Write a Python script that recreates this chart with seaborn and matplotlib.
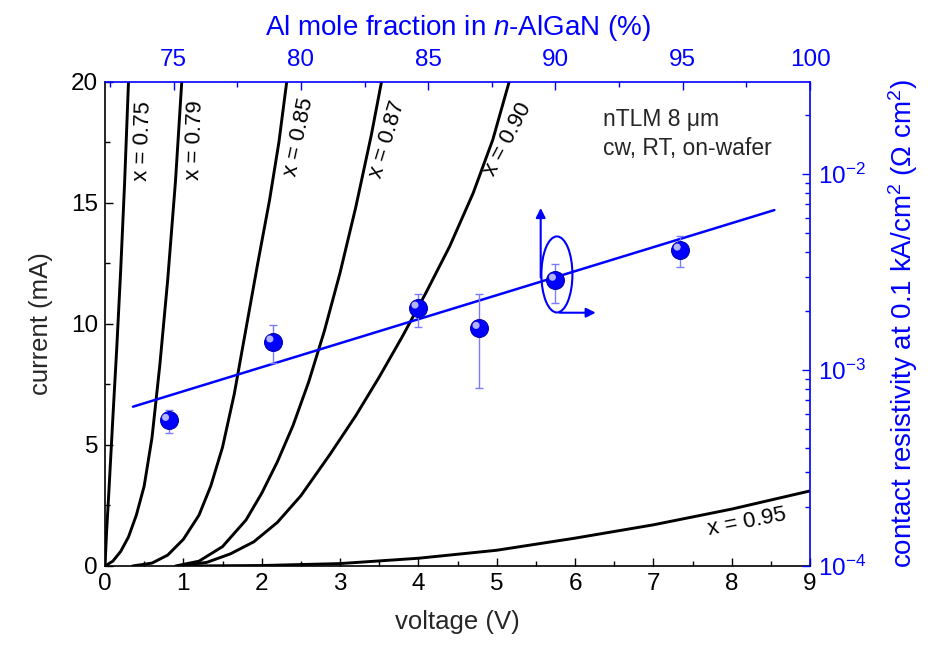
import numpy as np
import pandas as pd
import matplotlib
matplotlib.use("Agg")
import matplotlib.pyplot as plt
import seaborn as sns
from matplotlib.patches import Ellipse
from matplotlib.ticker import MultipleLocator, LogLocator, NullFormatter, FixedLocator
import matplotlib.transforms as mtransforms

# ---------------- data: I-V curves (voltage V, current mA) ----------------
labels = ["x = 0.75", "x = 0.79", "x = 0.85", "x = 0.87", "x = 0.90", "x = 0.95"]
v_075 = [0.0, 0.02, 0.05, 0.10, 0.15, 0.20, 0.25, 0.30]
i_075 = [0.0, 1.4, 3.1, 6.1, 9.0, 12.2, 15.8, 20.0]
v_079 = [0.0, 0.1, 0.2, 0.3, 0.4, 0.5, 0.6, 0.7, 0.8, 0.9, 0.98]
i_079 = [0.0, 0.2, 0.6, 1.2, 2.1, 3.3, 5.3, 8.3, 11.8, 15.9, 20.0]
v_085 = [0.35, 0.6, 0.8, 1.0, 1.2, 1.35, 1.5, 1.65, 1.8, 1.95, 2.1, 2.22, 2.32]
i_085 = [0.0, 0.12, 0.45, 1.1, 2.1, 3.3, 4.9, 7.1, 9.8, 12.5, 15.1, 17.5, 20.0]
v_087 = [0.9, 1.2, 1.5, 1.8, 2.0, 2.2, 2.4, 2.6, 2.8, 3.0, 3.2, 3.4, 3.53]
i_087 = [0.0, 0.2, 0.8, 1.9, 3.0, 4.3, 5.8, 7.6, 9.7, 12.1, 14.8, 17.8, 20.0]
v_090 = [0.95, 1.3, 1.6, 1.9, 2.2, 2.5, 2.87, 3.2, 3.5, 3.8, 4.1, 4.4, 4.7, 4.95, 5.16]
i_090 = [0.0, 0.15, 0.5, 1.0, 1.8, 2.9, 4.6, 6.2, 7.8, 9.5, 11.3, 13.2, 15.4, 17.6, 20.0]
v_095 = [1.0, 2.0, 3.0, 4.0, 5.0, 6.0, 7.0, 8.0, 9.0]
i_095 = [0.0, 0.02, 0.1, 0.32, 0.65, 1.15, 1.7, 2.35, 3.1]

# ---------------- data: contact resistivity vs Al mole fraction ----------------
al_frac = [74.8, 78.9, 84.6, 87.0, 90.0, 94.9]
rho = [5.53e-4, 1.39e-3, 2.07e-3, 1.63e-3, 2.87e-3, 4.09e-3]
rho_low = [4.78e-4, 1.09e-3, 1.66e-3, 8.13e-4, 2.20e-3, 3.37e-3]
rho_high = [6.27e-4, 1.70e-3, 2.43e-3, 2.43e-3, 3.48e-3, 4.83e-3]
fit_al = [73.4, 98.6]
fit_rho = [6.5e-4, 6.55e-3]

bottom_ticks = [0, 1, 2, 3, 4, 5, 6, 7, 8, 9]
left_ticks = [0, 5, 10, 15, 20]
top_ticks = [75, 80, 85, 90, 95, 100]

# ---------------- style ----------------
sns.set_theme(style="ticks")
FONT = "Liberation Sans"
plt.rcParams["font.family"] = [FONT, "DejaVu Sans"]
plt.rcParams["mathtext.fontset"] = "custom"
plt.rcParams["mathtext.rm"] = FONT
plt.rcParams["mathtext.it"] = FONT + ":italic"
plt.rcParams["mathtext.default"] = "regular"

BLUE = "#0000ff"
TICK_FS = 17.5
LAB_FS = 18.5
LAB2_FS = 20
ANN_FS = 16.5
CURVE_FS = 16

fig = plt.figure(figsize=(9.36, 6.49), dpi=100)
rect = [105 / 936, 1 - 566 / 649, 705 / 936, (566 - 81.7) / 649]
ax = fig.add_axes(rect)

# long-form frame for the I-V curves
frames = []
for lab, v, i in zip(labels, [v_075, v_079, v_085, v_087, v_090, v_095],
                     [i_075, i_079, i_085, i_087, i_090, i_095]):
    frames.append(pd.DataFrame({"voltage": v, "current": i, "comp": lab}))
iv = pd.concat(frames, ignore_index=True)
sns.lineplot(data=iv, x="voltage", y="current", hue="comp", units="comp",
             estimator=None, sort=False, palette=["black"] * len(labels),
             linewidth=2.1, legend=False, ax=ax)

ax.set_xlim(0, 9)
ax.set_ylim(0, 20)
ax.xaxis.set_major_locator(FixedLocator(bottom_ticks))
ax.xaxis.set_minor_locator(MultipleLocator(0.5))
ax.yaxis.set_major_locator(FixedLocator(left_ticks))
ax.yaxis.set_minor_locator(MultipleLocator(2.5))
ax.tick_params(which="both", direction="in", top=False, right=False,
               colors="black", labelsize=TICK_FS, width=1.0)
ax.tick_params(which="major", length=6)
ax.tick_params(which="minor", length=3.5)
ax.tick_params(axis="x", pad=5)
ax.tick_params(axis="y", pad=5)
ax.set_xlabel("voltage (V)", fontsize=LAB_FS, labelpad=11)
ax.set_ylabel("current (mA)", fontsize=LAB_FS, labelpad=13)
for s in ["left", "bottom"]:
    ax.spines[s].set_color("black")
for s in ["top", "right"]:
    ax.spines[s].set_color(BLUE)
for s in ax.spines.values():
    s.set_linewidth(1.2)

# curve labels
label_pos = [(0.49, 17.55, 88), (1.15, 17.6, 88), (2.48, 17.7, 78),
             (3.6, 17.6, 73), (5.14, 17.6, 62), (8.19, 1.83, 11)]
for lab, (xv, yv, rot) in zip(labels, label_pos):
    ax.text(xv, yv, lab, fontsize=CURVE_FS, rotation=rot, ha="center", va="center",
            rotation_mode="anchor", color="black")

ax.text(0.706, 0.921, "nTLM 8 \u03bcm", transform=ax.transAxes, fontsize=ANN_FS,
        ha="left", va="center")
ax.text(0.706, 0.862, "cw, RT, on-wafer", transform=ax.transAxes, fontsize=ANN_FS,
        ha="left", va="center")

# ---------------- second axes: top x (Al %) / right y (log resistivity) ----------------
ax2 = fig.add_axes(rect, frameon=False)
ax2.patch.set_visible(False)
ax2.xaxis.tick_top()
ax2.xaxis.set_label_position("top")
ax2.yaxis.tick_right()
ax2.yaxis.set_label_position("right")
ax2.set_yscale("log")
ax2.set_xlim(72.3, 100)
ax2.set_ylim(1e-4, 2.96e-2)

fit_df = pd.DataFrame({"al": fit_al, "rho": fit_rho})
sns.lineplot(data=fit_df, x="al", y="rho", color=BLUE, linewidth=1.8, ax=ax2,
             estimator=None, sort=False)

r = np.array(rho)
yerr = np.vstack([r - np.array(rho_low), np.array(rho_high) - r])
ax2.errorbar(al_frac, rho, yerr=yerr, fmt="none", ecolor="#7b7bff",
             elinewidth=1.0, capsize=3, capthick=1.0, zorder=3)

pts = pd.DataFrame({"al": al_frac, "rho": rho})
sns.scatterplot(data=pts, x="al", y="rho", color=BLUE, s=165,
                edgecolor="#0000b0", linewidth=0.8, ax=ax2, zorder=4)
hl = mtransforms.offset_copy(ax2.transData, fig=fig, x=-2.2, y=2.2, units="points")
ax2.scatter(al_frac, rho, s=26, color="#c8c8ff", edgecolors="none", alpha=0.9,
            transform=hl, zorder=5)

ax2.xaxis.set_major_locator(FixedLocator(top_ticks))
ax2.xaxis.set_minor_locator(MultipleLocator(2.5))
ax2.yaxis.set_major_locator(LogLocator(base=10, numticks=10))
ax2.yaxis.set_minor_locator(LogLocator(base=10, subs=np.arange(2, 10), numticks=20))
ax2.yaxis.set_minor_formatter(NullFormatter())
ax2.tick_params(which="both", direction="in", colors=BLUE, labelsize=TICK_FS,
                width=1.0, labelcolor=BLUE)
ax2.tick_params(which="major", length=6)
ax2.tick_params(which="minor", length=3.5)
ax2.tick_params(axis="x", pad=8)
ax2.tick_params(axis="y", pad=6)
ax2.set_xlabel("Al mole fraction in $\\it{n}$-AlGaN (%)", fontsize=LAB2_FS,
               color=BLUE, labelpad=10)
ax2.set_ylabel("contact resistivity at 0.1 kA/cm$^{2}$ ($\\Omega$ cm$^{2}$)",
               fontsize=LAB2_FS, color=BLUE, labelpad=14)

# marker annotation: ellipse and arrows around the x = 0.90 point
ax2.add_patch(Ellipse((0.641, 0.602), 0.044, 0.157, transform=ax2.transAxes,
                      fill=False, edgecolor=BLUE, linewidth=1.5))
ax2.annotate("", xy=(0.618, 0.745), xytext=(0.618, 0.59), xycoords="axes fraction",
             textcoords="axes fraction",
             arrowprops=dict(arrowstyle="-|>", color=BLUE, lw=1.5, mutation_scale=14))
ax2.annotate("", xy=(0.700, 0.523), xytext=(0.641, 0.523), xycoords="axes fraction",
             textcoords="axes fraction",
             arrowprops=dict(arrowstyle="-|>", color=BLUE, lw=1.5, mutation_scale=14))

fig.savefig("out.png", dpi=100)
